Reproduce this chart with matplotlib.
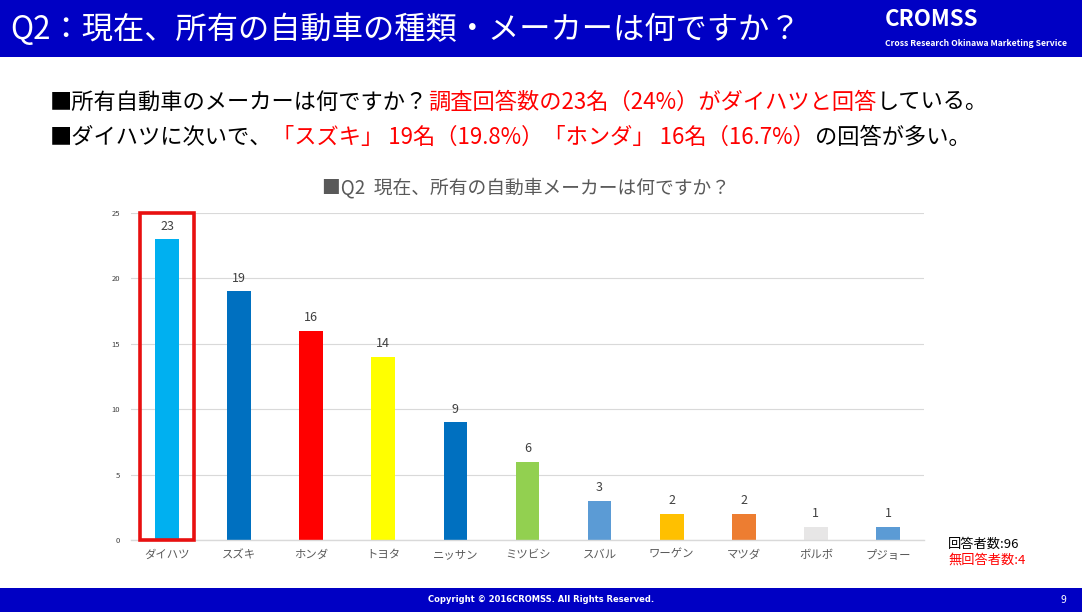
import matplotlib
matplotlib.use("Agg")
import matplotlib.pyplot as plt
from matplotlib.patches import Rectangle

plt.rcParams['font.family'] = ['Noto Sans CJK JP', 'DejaVu Sans']

makers = ["ダイハツ", "スズキ", "ホンダ", "トヨタ", "ニッサン", "ミツビシ",
          "スバル", "ワーゲン", "マツダ", "ボルボ", "プジョー"]
counts = [23, 19, 16, 14, 9, 6, 3, 2, 2, 1, 1]
colors = ["#00B0F0", "#0070C0", "#FF0000", "#FFFF00", "#0070C0", "#92D050",
          "#5B9BD5", "#FFC000", "#ED7D31", "#E7E6E6", "#5B9BD5"]
yticks = [0, 5, 10, 15, 20, 25]

BLUE = "#0000C4"
RED = "#FF0000"

W, H = 1082, 612
fig = plt.figure(figsize=(W / 100, H / 100), dpi=100)
fig.patch.set_facecolor("white")


def fx(px):
    return px / W


def fy(py):
    return 1 - py / H


# header / footer bands
fig.patches.append(Rectangle((0, fy(57)), 1, 57 / H, transform=fig.transFigure,
                             facecolor=BLUE, edgecolor="none", zorder=0))
fig.patches.append(Rectangle((0, 0), 1, 24 / H, transform=fig.transFigure,
                             facecolor=BLUE, edgecolor="none", zorder=0))

fig.text(fx(10), fy(30), "Q2：現在、所有の自動車の種類・メーカーは何ですか？",
         color="white", fontsize=22.5, va="center", ha="left")
fig.text(fx(885), fy(20), "CROMSS", color="white", fontsize=16,
         fontweight="bold", va="center", ha="left")
fig.text(fx(885), fy(43), "Cross Research Okinawa Marketing Service", color="white",
         fontsize=6.2, fontweight="bold", va="center", ha="left")

fig.text(fx(541), fy(600), "Copyright © 2016CROMSS. All Rights Reserved.",
         color="white", fontsize=6, fontweight="bold", va="center", ha="center",
         family=["DejaVu Sans"])
fig.text(fx(1063), fy(600), "9", color="white", fontsize=7.5, va="center",
         ha="center")


def rich(x0, y0, parts, size):
    # lay out coloured pieces of one line side by side
    x = fx(x0)
    for s, c in parts:
        t = fig.text(x, fy(y0), s, color=c, fontsize=size, va="center", ha="left")
        fig.canvas.draw()
        bb = t.get_window_extent()
        x = bb.x1 / (fig.get_figwidth() * fig.dpi)


rich(50, 102, [("■所有自動車のメーカーは何ですか？", "black"),
               ("調査回答数の23名（24%）がダイハツと回答", RED),
               ("している。", "black")], 16)
rich(50, 137, [("■ダイハツに次いで、", "black"),
               ("「スズキ」 19名（19.8%）「ホンダ」 16名（16.7%）", RED),
               ("の回答が多い。", "black")], 16)

# chart
ax = fig.add_axes([fx(131), fy(540), fx(924) - fx(131), fy(213) - fy(540)])
x = list(range(len(makers)))
bars = ax.bar(x, counts, width=0.33, color=colors, zorder=2)
for xi, v in zip(x, counts):
    ax.text(xi, v + 0.5, str(v), ha="center", va="bottom", fontsize=9,
            color="#404040")
ax.set_xlim(-0.5, len(makers) - 0.5)
ax.set_ylim(0, 25)
ax.set_yticks(yticks)
ax.set_yticklabels([str(v) for v in yticks], fontsize=5.5, color="#404040")
ax.set_xticks(x)
ax.set_xticklabels(makers, fontsize=8.2, color="#595959")
ax.tick_params(length=0, axis="both")
ax.tick_params(axis="y", pad=8)
ax.tick_params(axis="x", pad=7)
ax.grid(axis="y", color="#D9D9D9", linewidth=0.8, zorder=0)
for s in ["top", "right", "left"]:
    ax.spines[s].set_visible(False)
ax.spines["bottom"].set_color("#D9D9D9")
ax.spines["bottom"].set_linewidth(1.0)

# highlight box around the first bar
ax.add_patch(Rectangle((-0.37, 0), 0.74, 25, fill=False, edgecolor="#E81010",
                       linewidth=2.6, zorder=3, clip_on=False))

fig.text(fx(526), fy(188), "■Q2  現在、所有の自動車メーカーは何ですか？",
         color="#595959", fontsize=13.5, ha="center", va="center")

fig.text(fx(948), fy(544), "回答者数:96", color="black", fontsize=9.5,
         ha="left", va="center")
fig.text(fx(948), fy(560), "無回答者数:4", color=RED, fontsize=9.5,
         ha="left", va="center")

fig.savefig("out.png", dpi=100)
